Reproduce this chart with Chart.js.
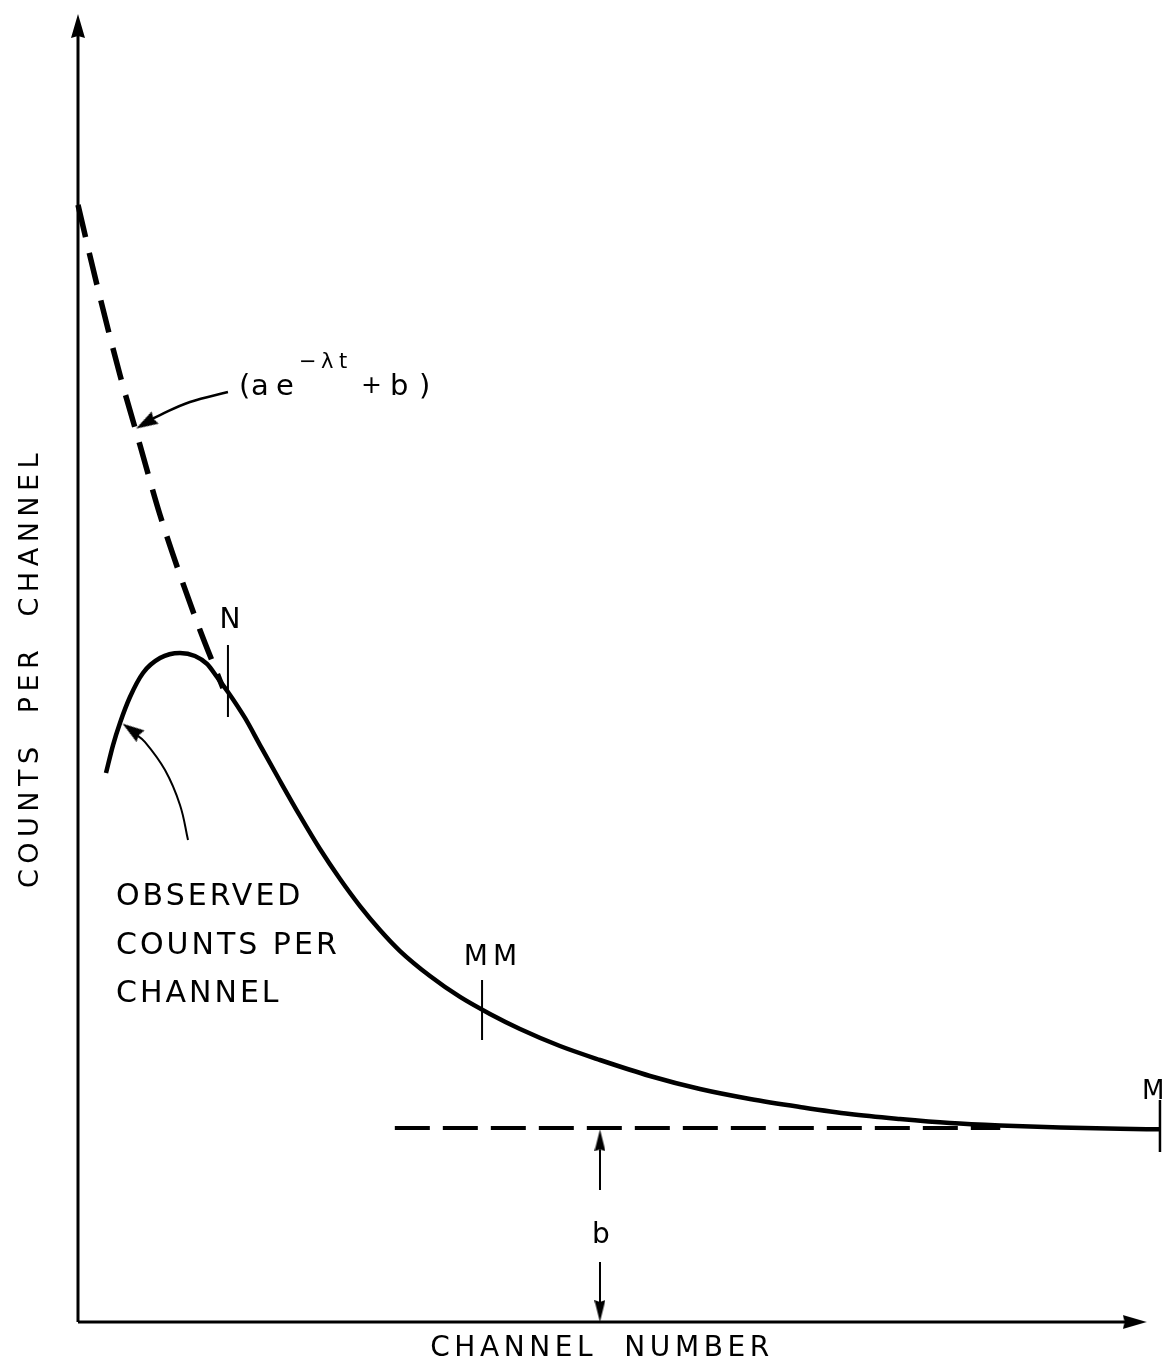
<!DOCTYPE html>
<html>
<head>
<meta charset="utf-8">
<script src="https://cdn.jsdelivr.net/npm/chart.js@4.4.1/dist/chart.umd.min.js"></script>
<style>
  html, body { margin: 0; padding: 0; background: #fff; }
  #wrap { width: 1171px; height: 1372px; position: relative; }
</style>
</head>
<body>
<div id="wrap"><canvas id="myChart"></canvas></div>
<script>
// observed counts per channel (arbitrary units)
const observedX = [2.58, 3.23, 3.87, 4.79, 5.99, 7.56, 9.40, 10.78, 11.89, 12.81, 13.82, 15.39, 16.77, 18.62, 20.46, 22.30, 24.15, 25.99, 27.83, 29.68, 32.44, 35.21, 37.97, 40.74, 44.42, 48.11, 52.72, 57.33, 61.94, 66.54, 71.15, 75.76, 80.37, 84.98, 90.51, 96.04, 99.72];
const observedY = [41.97, 44.11, 45.80, 47.78, 49.62, 50.76, 51.15, 50.92, 50.31, 49.31, 48.17, 46.18, 44.11, 41.36, 38.69, 36.16, 33.87, 31.80, 29.97, 28.36, 26.45, 24.85, 23.55, 22.40, 21.10, 20.03, 18.81, 17.81, 17.05, 16.44, 15.90, 15.52, 15.21, 15.02, 14.87, 14.77, 14.73];

// extrapolated fit (a e^-lt + b), dashed
const fitX = [0, 1.75, 3.87, 5.71, 7.56, 9.40, 11.24, 13.36];
const fitY = [85.40, 79.28, 72.40, 67.05, 61.70, 57.11, 52.91, 48.47];

// background level b
const baseLevel = 14.83;
const baseFrom = 29.2;
const baseTo = 85.0;

// channel marks N, MM, M
const markN = 13.82;
const markMM = 37.24;
const markM = 99.72;

// pointer leaders
const fitPointerX = [13.82, 10.32, 7.56, 5.90];
const fitPointerY = [71.10, 70.34, 69.34, 68.65];
const obsPointerX = [10.14, 9.40, 8.02, 6.18, 5.20];
const obsPointerY = [36.85, 39.53, 42.20, 44.34, 45.00];

const xArrowTip = 98.5;
const yArrowTip = 100;

function pts(xs, ys) {
    return xs.map((x, i) => ({ x: x, y: ys[i] }));
}

function makeArrow(w, len) {
    const c = document.createElement('canvas');
    c.width = w;
    c.height = len * 2;
    const g = c.getContext('2d');
    g.fillStyle = '#000';
    g.beginPath();
    g.moveTo(w / 2, len);
    g.lineTo(w, len * 2);
    g.lineTo(w / 2, len * 2 - 2);
    g.lineTo(0, len * 2);
    g.closePath();
    g.fill();
    return c;
}

const bigArrow = makeArrow(14, 24);
const smallArrow = makeArrow(14, 22);
const thinArrow = makeArrow(11, 22);

function segment(x1, y1, x2, y2, width) {
    return {
        data: [{ x: x1, y: y1 }, { x: x2, y: y2 }],
        borderColor: '#000',
        borderWidth: width,
        pointRadius: 0,
        tension: 0,
        clip: false,
    };
}

function arrowHead(x, y, rot, img) {
    return {
        data: [{ x: x, y: y }],
        showLine: false,
        pointStyle: img,
        pointRotation: rot,
        pointRadius: 5,
        clip: false,
    };
}

const notes = {
    id: 'notes',
    afterDatasetsDraw(chart) {
        const ctx = chart.ctx;
        ctx.save();
        ctx.fillStyle = '#000';
        ctx.textBaseline = 'alphabetic';
        ctx.font = '28px "DejaVu Sans"';
        ctx.letterSpacing = '0px';

        ctx.textAlign = 'center';
        ctx.fillText('N', 230, 628);
        ctx.fillText('b', 601, 1243);
        ctx.letterSpacing = '5px';
        ctx.fillText('MM', 493, 965);
        ctx.letterSpacing = '0px';
        ctx.textAlign = 'left';
        ctx.font = '26px "DejaVu Sans"';
        ctx.fillText('M', 1142, 1099);

        // formula, glyph by glyph
        ctx.font = '29px "DejaVu Sans"';
        ctx.fillText('(', 239, 395);
        ctx.fillText('a', 251, 395);
        ctx.fillText('e', 276, 395);
        ctx.fillText('b', 390, 395);
        ctx.fillText(')', 419, 395);
        ctx.font = '25px "DejaVu Sans"';
        ctx.fillText('+', 361, 393);
        ctx.font = '21px "DejaVu Sans"';
        ctx.fillText('\u2212', 299, 368);
        ctx.fillText('\u03bb', 321, 368);
        ctx.fillText('t', 339, 368);

        ctx.font = '30px "DejaVu Sans"';
        ctx.letterSpacing = '3px';
        ctx.fillText('OBSERVED', 116, 905);
        ctx.fillText('COUNTS PER', 116, 954);
        ctx.fillText('CHANNEL', 116, 1002);

        // axis titles
        ctx.font = '28px "DejaVu Sans"';
        ctx.letterSpacing = '4.6px';
        ctx.textAlign = 'center';
        ctx.fillText('CHANNEL  NUMBER', 602, 1356);

        ctx.font = '27px "DejaVu Sans"';
        ctx.letterSpacing = '5.5px';
        ctx.translate(38, 668);
        ctx.rotate(-Math.PI / 2);
        ctx.fillText('COUNTS  PER  CHANNEL', 0, 0);
        ctx.restore();
    }
};

const ctx = document.getElementById('myChart').getContext('2d');

const datasets = [
    // axes
    segment(0, 0, xArrowTip - 1, 0, 3),
    segment(0, 0, 0, yArrowTip - 1, 3),
    arrowHead(xArrowTip, 0, 90, bigArrow),
    arrowHead(0, yArrowTip, 0, bigArrow),
    // observed curve
    {
        label: 'Observed',
        data: pts(observedX, observedY),
        borderColor: '#000',
        borderWidth: 4.5,
        pointRadius: 0,
        cubicInterpolationMode: 'monotone',
        clip: false,
    },
    // fit, dashed
    {
        label: 'Fit',
        data: pts(fitX, fitY),
        borderColor: '#000',
        borderWidth: 5.5,
        borderDash: [33, 16],
        pointRadius: 0,
        cubicInterpolationMode: 'monotone',
        clip: false,
    },
    // background b
    {
        label: 'b',
        data: [{ x: baseFrom, y: baseLevel }, { x: baseTo, y: baseLevel }],
        borderColor: '#000',
        borderWidth: 4,
        borderDash: [35, 13],
        pointRadius: 0,
        clip: false,
    },
    // marks
    segment(markN, 51.76, markN, 46.25, 2),
    segment(markMM, 26.15, markMM, 21.56, 2),
    segment(markM, 16.97, markM, 13.0, 2.5),
    // b dimension arrow
    segment(48.11, 13.2, 48.11, 10.09, 2),
    segment(48.11, 4.59, 48.11, 1.4, 2),
    arrowHead(48.11, baseLevel - 0.1, 0, thinArrow),
    arrowHead(48.11, 0, 180, thinArrow),
    // pointers
    {
        data: pts(fitPointerX, fitPointerY),
        borderColor: '#000',
        borderWidth: 2.5,
        pointRadius: 0,
        tension: 0.4,
        clip: false,
    },
    arrowHead(5.35, 68.3, 240, smallArrow),
    {
        data: pts(obsPointerX, obsPointerY),
        borderColor: '#000',
        borderWidth: 2,
        pointRadius: 0,
        tension: 0.4,
        clip: false,
    },
    arrowHead(4.1, 45.75, 305, smallArrow),
];

const myChart = new Chart(ctx, {
    type: 'line',
    data: { datasets: datasets },
    options: {
        responsive: true,
        maintainAspectRatio: false,
        animation: false,
        layout: {
            padding: { left: 78, right: 8, top: 14, bottom: 50 }
        },
        plugins: {
            legend: { display: false },
            tooltip: { enabled: false },
        },
        scales: {
            x: { type: 'linear', min: 0, max: 100, display: false },
            y: { type: 'linear', min: 0, max: 100, display: false },
        },
    },
    plugins: [notes],
});
</script>
</body>
</html>
